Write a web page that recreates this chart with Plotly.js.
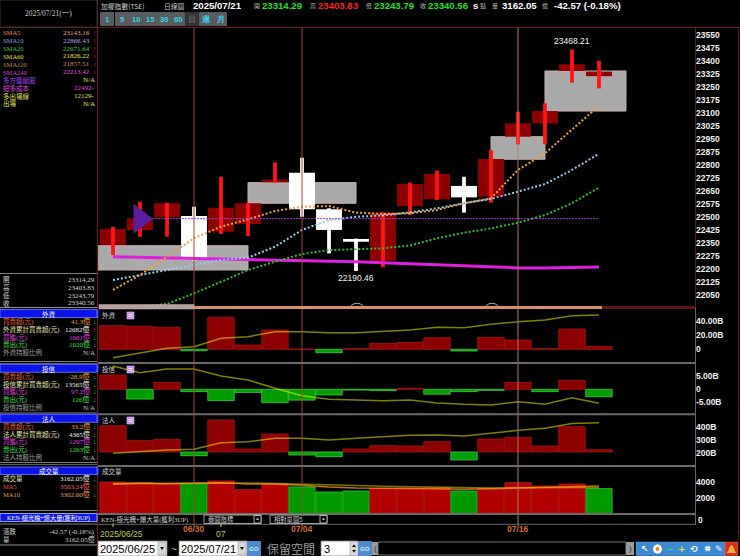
<!DOCTYPE html>
<html><head><meta charset="utf-8">
<script src="https://cdn.plot.ly/plotly-3.0.1.min.js"></script>
<style>html,body{margin:0;padding:0;background:#000;overflow:hidden}#chart{width:740px;height:556px}</style>
</head><body><div id="chart"></div>
<script>
// ---- TAIEX daily data, 2025/06/25 - 2025/07/21 ----
const dates = ['2025/06/25','2025/06/26','2025/06/27','2025/06/30','2025/07/01','2025/07/02','2025/07/03','2025/07/04','2025/07/07','2025/07/08','2025/07/09','2025/07/10','2025/07/11','2025/07/14','2025/07/15','2025/07/16','2025/07/17','2025/07/18','2025/07/21'];
const open  = [22340,22427,22500,22507,22417,22461,22702,22757,22546,22375,22250,22565,22604,22681,22619,22965,23042,23344,23314.29];
const high  = [22446,22590,22584,22561,22734,22583,22817,22844,22552,22377,22530,22700,22769,22734,22888,23109,23158,23468.21,23403.83];
const low   = [22282,22388,22388,22250,22404,22392,22700,22503,22292,22190.46,22212,22513,22600,22527,22584,22921,22921,23277,23243.79];
const close = [22432,22494,22581,22254,22555,22581,22718,22546,22427,22359,22527,22692,22750,22615,22836,23042,23113,23383.13,23340.56];

// moving averages of the index
const sma5   = [22081,22167,22273,22379,22446,22488,22536,22561,22565,22527,22519,22523,22542,22581,22610,22773,22869,23004,23143.16];
const sma10  = [22138,22167,22196,22225,22254,22267,22330,22427,22484,22503,22511,22528,22552,22581,22606,22648,22692,22773,22866.43];
const sma20  = [21940,21984,22000,22061,22128,22196,22244,22288,22311,22317,22321,22337,22379,22411,22436,22469,22513,22581,22671.64];
const sma60Last = 21826.22, sma120Last = 21857.51;
const sma240 = [22273,22270,22268,22265,22262,22259,22256,22252,22248,22243,22238,22232,22225,22216,22211,22208,22208,22210,22213.42];

// cost level marker
const costLevel = 22492, costFrom = '2025/06/26', exitLine = 12129;

// price gaps (from index, to index, low, high)
const gapFrom = [-1, 5, 14, 16];
const gapTo   = [5, 9, 16, 19];
const gapLow  = [22196, 22581, 22835, 23113];
const gapHigh = [22336, 22700, 22965, 23344];

// institutional flows: daily net (B) and running totals
const foreignNet = [33.7,33.0,31.4,-2.0,45.7,6.1,27.6,0.5,-4.8,1.0,8.6,10.0,16.6,-2.4,17.1,13.3,1.0,29.0,4.13];
const foreignCum = [10120,10384,10684,10780,11284,11380,11680,11680,11620,11620,11722,11782,11944,11920,12124,12280,12382,12640,12682];
const trustNet   = [5.6,-3.8,2.7,-0.9,-4.4,-1.2,-5.2,-4.2,-2.2,-0.3,-0.5,0.4,-1.9,-0.9,-0.4,2.7,-0.9,3.5,-2.89];
const trustCum   = [14311,14177,14251,14251,14111,14031,13865,13717,13645,13631,13617,13631,13571,13545,13531,13597,13545,13677,13565];
const instNet    = [37.6,16.2,18.2,-5.3,45.8,4.3,25.7,-4.3,-6.7,4.3,9.0,8.6,14.7,-11.4,18.6,21.0,8.6,36.2,3.32];
const instCum    = [195,208,221,227,279,287,313,313,300,313,326,337,339,331,353,376,392,430,436.5];

// turnover (億) and its averages
const volume = [3990,3900,3740,3780,4120,3020,3740,3360,2730,2850,3150,3240,3270,2850,3150,3910,3490,3740,3162.05];
const volMA5  = [3700,3830,3780,3830,3900,3740,3740,3580,3360,3240,3240,3150,3150,3070,3150,3270,3360,3400,3503.24];
const volMA10 = [3800,3820,3800,3810,3850,3870,3820,3700,3620,3540,3470,3400,3360,3270,3250,3280,3300,3330,3302.60];

// axis ticks and labels
const priceTicks = [22050,22125,22200,22275,22350,22425,22500,22575,22650,22725,22800,22875,22950,23025,23100,23175,23250,23325,23400,23475,23550];
const markDates  = ['2025/06/30','2025/07/04','2025/07/16'];
const dateLabelAt   = ['2025/06/25','2025/06/30','2025/07/01','2025/07/04','2025/07/16'];
const dateLabelText = ['2025/06/25','06/30','07','07/04','07/16'];

// side-panel figures
const foreignRows = ['41.3億','12682億','1061億','1020億'];
const trustRows   = ['-28.9億','13565億','97.2億','126億'];
const instRows    = ['33.2億','4365億','1297億','1263億'];
const periodBtns  = ['1','5','10','15','30','60','日','週','月'];

// ---------------------------------------------------------------
const W = 740, H = 556;
const fx = x => x / W;
const fy = y => 1 - y / H;
const idx = dates.map((d, i) => i);
const last = dates.length - 1;
const isUp = close.map((c, i) => c >= open[i]);
const volUp = close.map((c, i) => i === 0 ? true : c >= close[i - 1]);

const SERIF = "Liberation Serif, 'Noto Sans CJK TC', serif";
const SANS = "Liberation Sans, Arial, sans-serif";
const CJK = "'Noto Sans CJK TC', sans-serif";

const traces = [];
// candle bodies
traces.push({type:'bar', x:idx, base:open.map((o,i)=>Math.min(o,close[i])),
  y:open.map((o,i)=>Math.max(Math.abs(close[i]-o),2)), width:0.96,
  marker:{color:isUp.map(u=>u?'#8e0000':'#ffffff'), line:{width:0}}, yaxis:'y', hoverinfo:'skip'});
// candle wicks
traces.push({type:'bar', x:idx, base:low, y:high.map((h,i)=>h-low[i]), width:0.14,
  marker:{color:isUp.map(u=>u?'#ff1414':'#ffffff'), line:{width:0}}, yaxis:'y', hoverinfo:'skip'});
// moving averages
traces.push({type:'scatter', mode:'lines', x:idx, y:sma240, line:{color:'#e01ee0', width:3}, yaxis:'y'});
traces.push({type:'scatter', mode:'lines', x:idx, y:sma20, line:{color:'#2fc02f', width:2, dash:'2px,2px'}, yaxis:'y'});
traces.push({type:'scatter', mode:'lines', x:idx, y:sma10, line:{color:'#8ccff2', width:2, dash:'2px,2px'}, yaxis:'y'});
traces.push({type:'scatter', mode:'lines', x:idx, y:sma5, line:{color:'#f0a040', width:2, dash:'2px,2px'}, yaxis:'y'});
// cost level line and marker
const ci = dates.indexOf(costFrom);
traces.push({type:'scatter', mode:'lines', x:[ci, last], y:[costLevel, costLevel], line:{color:'#a43ad8', width:1, dash:'2px,1px'}, yaxis:'y'});
traces.push({type:'scatter', mode:'markers', x:[ci], y:[costLevel], marker:{symbol:'triangle-right', size:26, color:'#5a1e9c', line:{width:0}}, yaxis:'y'});

// sub-panel bars
const redGreen = (arr, r, g) => arr.map(v => v >= 0 ? r : g);
traces.push({type:'bar', x:idx, y:foreignNet, width:0.98, yaxis:'y2',
  marker:{color:redGreen(foreignNet,'#8c0000','#009c00'), line:{width:0.8, color:redGreen(foreignNet,'#a81414','#40d040')}}});
traces.push({type:'scatter', mode:'lines', x:idx, y:foreignCum, yaxis:'y3', line:{color:'rgba(255,255,0,0.5)', width:1.5}});
traces.push({type:'bar', x:idx, y:trustNet, width:0.98, yaxis:'y4',
  marker:{color:redGreen(trustNet,'#8c0000','#009c00'), line:{width:0.8, color:redGreen(trustNet,'#a81414','#40d040')}}});
traces.push({type:'scatter', mode:'lines', x:idx, y:trustCum, yaxis:'y5', line:{color:'rgba(255,255,0,0.5)', width:1.5}});
traces.push({type:'bar', x:idx, y:instNet, width:0.98, yaxis:'y6',
  marker:{color:redGreen(instNet,'#8c0000','#009c00'), line:{width:0.8, color:redGreen(instNet,'#a81414','#40d040')}}});
traces.push({type:'scatter', mode:'lines', x:idx, y:instCum, yaxis:'y7', line:{color:'rgba(255,255,0,0.5)', width:1.5}});
// volume
traces.push({type:'bar', x:idx, y:volume, width:0.97, yaxis:'y8',
  marker:{color:volUp.map(u=>u?'#b00000':'#009a00'), line:{width:0.8, color:volUp.map(u=>u?'#c82020':'#30c830')}}});
traces.push({type:'scatter', mode:'lines', x:idx, y:volMA10, yaxis:'y8', line:{color:'rgba(200,190,0,0.6)', width:1.5}});
traces.push({type:'scatter', mode:'lines', x:idx, y:volMA5, yaxis:'y8', line:{color:'rgba(255,150,20,0.75)', width:1.5}});

// ---- axes ----
const tickFont = {family:SANS, size:8.5, color:'#f2f2f2', weight:'bold'};
const yBase = {side:'right', anchor:'x', showgrid:false, zeroline:false, showline:false, ticks:'', tickfont:tickFont, fixedrange:true};
const layout = {
  width:W, height:H, margin:{l:0,r:0,t:0,b:0}, paper_bgcolor:'#000', plot_bgcolor:'#000',
  showlegend:false, barmode:'overlay', hovermode:false,
  xaxis:{domain:[fx(98), fx(695)], range:[-0.556, 21.556], visible:false, fixedrange:true, anchor:'y'},
  yaxis: Object.assign({}, yBase, {domain:[fy(307), fy(29)], range:[21982.5, 23586.3], tickvals:priceTicks, ticktext:priceTicks.map(String)}),
  yaxis2: Object.assign({}, yBase, {domain:[fy(362), fy(310)], range:[-18.1, 56.1], tickvals:[0,20,40], ticktext:['0','20.00B','40.00B']}),
  yaxis3: Object.assign({}, yBase, {overlaying:'y2', range:[9862, 12982], visible:false}),
  yaxis4: Object.assign({}, yBase, {domain:[fy(413), fy(363)], range:[-9.22, 10.23], tickvals:[-5,0,5], ticktext:['-5.00B','0','5.00B']}),
  yaxis5: Object.assign({}, yBase, {overlaying:'y4', range:[13371, 14371], visible:false}),
  yaxis6: Object.assign({}, yBase, {domain:[fy(465), fy(414)], range:[-18.6, 54.3], showticklabels:false}),
  yaxis7: Object.assign({}, yBase, {overlaying:'y6', range:[103.1, 504.7], tickvals:[200,300,400], ticktext:['200B','300B','400B']}),
  yaxis8: Object.assign({}, yBase, {domain:[fy(513.4), fy(467)], range:[0, 5911], tickvals:[2000,4000], ticktext:['2000','4000']}),
  shapes:[], annotations:[]
};
const S = layout.shapes, A = layout.annotations;

function rectP(x0,y0,x1,y1,fill,line,lw){ S.push({type:'rect', xref:'paper', yref:'paper', x0:fx(x0), x1:fx(x1), y0:fy(y1), y1:fy(y0), fillcolor:fill, line:{color:line||'rgba(0,0,0,0)', width:lw===undefined?1:lw}, layer:'above'}); }
function circP(x0,y0,x1,y1,fill){ S.push({type:'circle', xref:'paper', yref:'paper', x0:fx(x0), x1:fx(x1), y0:fy(y1), y1:fy(y0), fillcolor:fill, line:{width:0}, layer:'above'}); }
function lineP(x0,y0,x1,y1,color,w){ S.push({type:'line', xref:'paper', yref:'paper', x0:fx(x0), x1:fx(x1), y0:fy(y0), y1:fy(y1), line:{color:color, width:w||1}, layer:'above'}); }
function T(x,y,text,color,size,o){ A.push(Object.assign({xref:'paper', yref:'paper', x:fx(x), y:fy(y), text:text, showarrow:false, xanchor:'left', yanchor:'middle', borderpad:0, font:{family:SERIF, size:size||7.5, color:color}}, o||{})); }

// gap boxes
gapFrom.forEach((g,i)=>{
  S.push({type:'rect', xref:'x', yref:'y', x0:g, x1:gapTo[i], y0:gapLow[i], y1:gapHigh[i], fillcolor:'#a9a9a9', line:{color:'#cdb0b0', width:1}, layer:'below'});
});
// marker lines
const markColors = ['#a2482a','#a2482a','#b57a66'];
markDates.forEach((d,i)=>{
  const k = dates.indexOf(d);
  S.push({type:'line', xref:'x', yref:'paper', x0:k, x1:k, y0:fy(525), y1:fy(28), line:{color:markColors[i], width:1}, layer:'above'});
});

// frame lines
lineP(0,27.5,740,27.5,'#6a1a1a',1);
lineP(97.5,0,97.5,556,'#6a1a1a',1.2);
lineP(695.5,28,695.5,308,'#5c1c1c',1);
lineP(695.5,308,695.5,525,'#666',1);
lineP(738.5,28,738.5,540,'#5a1010',1);
// bottom strip of price panel
rectP(99,304.5,194,309,'#b0a0a0','#d0a8a8',0.5);
lineP(194,307.5,602,307.5,'#d8906c',3);
lineP(602,307.5,695,307.5,'#5a1414',3);
[357,492].forEach(cx=>{
  S.push({type:'path', xref:'paper', yref:'paper', path:'M '+fx(cx-6)+','+fy(305.5)+' Q '+fx(cx)+','+fy(301)+' '+fx(cx+6)+','+fy(305.5), line:{color:'#a8a8a8', width:1}, layer:'above'});
});
// panel separators
[363,414.3,466,513.9].forEach(y=>lineP(98,y,695,y,'#6a6a6a',2));
lineP(98,524.3,695,524.3,'#6a6a6a',1);
// little blue markers at panel edges
[310,364,415,467].forEach(y=>rectP(96.5,y,98.5,y+8,'#2040ff','#2040ff',0));
// panel titles and icons
const panelTitle = (y,t)=>T(101,y,t,'#d8d8d8',6.5,{font:{family:CJK,size:6.5,color:'#d8d8d8'}});
panelTitle(314.5,'外資'); panelTitle(368.5,'投信'); panelTitle(420,'法人'); panelTitle(471.5,'成交量');
[312,366,417].forEach(y=>{
  rectP(127,y,134,y+7,'#c690f2','#e4c8ff',0.6);
  lineP(128.5,y+2.5,132.5,y+2.5,'#ffffff',0.8);
  lineP(128.5,y+4.5,132.5,y+4.5,'#ffffff',0.8);
});

// extreme labels
const hiIdx = high.indexOf(Math.max(...high));
const loIdx = low.indexOf(Math.min(...low));
A.push({xref:'x', yref:'y', x:hiIdx, y:high[hiIdx], text:high[hiIdx].toFixed(2), showarrow:false, yanchor:'bottom', xanchor:'center', yshift:1, font:{family:SANS, size:8.5, color:'#f0f0f0'}});
A.push({xref:'x', yref:'y', x:loIdx, y:low[loIdx], text:low[loIdx].toFixed(2), showarrow:false, yanchor:'top', xanchor:'center', yshift:0, font:{family:SANS, size:8.5, color:'#f0f0f0'}});

// volume zero label
T(697,519.7,'0','#f2f2f2',8.5,{font:tickFont});

// date labels under the panels
const dateColors = {'2025/06/25':'#c8c840','2025/07/01':'#c8c840'};
dateLabelAt.forEach((d,i)=>{
  const k = dates.indexOf(d);
  const col = dateColors[d] || '#d06a30';
  const yy = dateColors[d] ? 534 : 529;
  A.push({xref:'x', yref:'paper', x:k, y:fy(yy), text:dateLabelText[i], showarrow:false, xanchor:'center', yanchor:'middle', xshift: d==='2025/06/25'?8:0,
    font:{family:SANS, size:8.5, color:col, weight: dateColors[d]?'normal':'bold'}});
  if (dateColors[d]) S.push({type:'line', xref:'x', yref:'paper', x0:k, x1:k, y0:fy(527), y1:fy(523.5), line:{color:col, width:1}, layer:'above'});
});

// indicator selector row
T(100,519,'KEN-極光魄+爆大量(獲利3UP)','#d0d0d0',6.5,{font:{family:SERIF,size:6.5,color:'#d0d0d0'}});
rectP(204,515,261,523.5,'#000','#c8c8c8',0.8);
T(207,519.2,'疊圖指標','#d0d0d0',6.3,{font:{family:CJK,size:6.3,color:'#d0d0d0'}});
rectP(254,515.5,261,523,'#000','#d0d0d0',0.8);
lineP(256.5,519.2,258.5,519.2,'#e0e0e0',1.5);
rectP(270,515,327,523.5,'#000','#c8c8c8',0.8);
T(273,519.2,'相對量圖5','#d0d0d0',6.3,{font:{family:CJK,size:6.3,color:'#d0d0d0'}});
rectP(320,515.5,327,523,'#000','#d0d0d0',0.8);
lineP(322.5,519.2,324.5,519.2,'#e0e0e0',1.5);

// ---- top bar ----
rectP(0,0,97,27,'#000','#3a3a3a',0.8);
T(48.5,14,'2025/07/21(一)','#c8c8c8',7.5,{xanchor:'center'});
T(100,5.5,'加權指數(TSE)','#d0d0d0',6.8,{font:{family:CJK,size:6.8,color:'#d0d0d0'}});
T(163,5.5,'日線圖','#c0c0c0',6.8,{font:{family:CJK,size:6.8,color:'#c0c0c0'}});
const boldTop = (x,t,c)=>T(x,5.5,t,c,9.6,{font:{family:SANS,size:9.6,color:c,weight:'bold'}});
const smallTop = (x,t)=>T(x,5.5,t,'#b8b8b8',6,{font:{family:CJK,size:6,color:'#b8b8b8'}});
boldTop(192, dates[last], '#ffffff');
smallTop(253,'開'); boldTop(261, open[last].toFixed(2), '#22e022');
smallTop(309,'高'); boldTop(317, high[last].toFixed(2), '#ff2020');
smallTop(365,'低'); boldTop(373, low[last].toFixed(2), '#22e022');
smallTop(419,'收'); boldTop(426.5, close[last].toFixed(2), '#22e022');
boldTop(472,'s','#ffffff'); smallTop(479,'點');
smallTop(491,'量'); boldTop(501, volume[last].toFixed(2), '#ffffff'); smallTop(541,'億');
const chg = close[last]-close[last-1];
boldTop(553, chg.toFixed(2)+' ('+(chg/close[last-1]*100).toFixed(2)+'%)', '#ffffff');
// period buttons
const btnX = [100,115,129,143,157,171,185,199,213];
periodBtns.forEach((b,i)=>{
  const sel = b==='日';
  rectP(btnX[i]+0.5,12.5,btnX[i]+13.5,25.5, sel?'#353535':'#585c60', sel?'#454545':'#7a7e82',0.6);
  T(btnX[i]+7,19.2,b, sel?'#6a6a6a':'#3ad6e6',7.5,{xanchor:'center', font:{family:SANS, size:7.5, color: sel?'#6a6a6a':'#3ad6e6', weight:'bold'}});
});

// ---- left information panel ----
const valX = 91, arrX = 92;
function row(y,label,lc,val,vc,arr,ac){
  T(2,y,label,lc,6.5);
  T(arr?valX:96,y,val,vc,7,{xanchor:'right', font:{family:SERIF,size:7,color:vc}});
  if (arr) T(arrX,y,arr,ac,6.5,{font:{family:SERIF,size:6.5,color:ac,weight:'bold'}});
}
const RED='#ff2020', GRN='#20d020';
row(32.7,'SMA5','#e08a4a',sma5[last].toFixed(2),'#f0a080','↑',RED);
row(40.7,'SMA10','#70a8e8',sma10[last].toFixed(2),'#b0a8ff','↑',RED);
row(48.5,'SMA20','#40c040',sma20[last].toFixed(2),'#40d040','↑',RED);
row(56.3,'SMA60','#e0e040',sma60Last.toFixed(2),'#e8e840','↑',RED);
row(64.2,'SMA120','#c88848',sma120Last.toFixed(2),'#d09060','↑',RED);
row(72.2,'SMA240','#d040d0',sma240[last].toFixed(2),'#e050e0','↑',RED);
row(80,'多方連續圈','#a040f0','N/A','#e0e040');
row(88,'短多成本','#e040e0',costLevel+'-','#e040e0');
row(96,'多出場線','#e0e060',exitLine+'-','#e0e060');
row(104,'出場','#e0e060','N/A','#e0e060');

lineP(0,273.5,97,273.5,'#808080',1);
row(280,'開','#d8d8d8',open[last].toFixed(2),'#d8d8d8');
row(287.7,'高','#d8d8d8',high[last].toFixed(2),'#d8d8d8');
row(295.5,'低','#d8d8d8',low[last].toFixed(2),'#d8d8d8');
row(303.2,'收','#d8d8d8',close[last].toFixed(2),'#d8d8d8');

function header(y0,y1,text){
  rectP(0,y0,97,y1,'#0a16e8','#7080ff',0.8);
  T(48.5,(y0+y1)/2+0.3,text,'#ffffff',6.5,{xanchor:'center', font:{family:CJK,size:6.5,color:'#ffffff'}});
}
function flowBlock(y0, name, vals, arrows){
  header(y0, y0+8, name);
  const ys = [y0+12.2, y0+19.8, y0+27.6, y0+35.4, y0+43.2];
  row(ys[0],'買賣超(元)','#e86030',vals[0],'#f0a030','↓',GRN);
  row(ys[1],name+'累計買賣超(元)','#e8e8b0',vals[1],'#f0f0f0',arrows,arrows==='↑'?RED:GRN);
  row(ys[2],'買進(元)','#e040e0',vals[2],'#e040e0','↓',GRN);
  row(ys[3],'賣出(元)','#40e040',vals[3],'#40e040','↓',GRN);
  row(ys[4],name+'持股比例','#a0a0a0','N/A','#c0c0c0');
}
lineP(0,307.5,97,307.5,'#909090',1);
flowBlock(309.5,'外資',foreignRows,'↑');
lineP(0,361.5,97,361.5,'#808080',1); lineP(0,363.5,97,363.5,'#606060',1);
flowBlock(364.3,'投信',trustRows,'↓');
lineP(0,413,97,413,'#808080',1);
flowBlock(414.3,'法人',instRows,'↓');
lineP(0,462.5,97,462.5,'#808080',1); lineP(0,464.5,97,464.5,'#606060',1);
header(467,474.5,'成交量');
row(478.3,'成交量','#e8e8b0',volume[last].toFixed(2)+'億','#f0f0f0','↓',GRN);
row(486.2,'MA5','#ff5050',volMA5[last].toFixed(2)+'億','#ff6060','↑',RED);
row(494.2,'MA10','#e0a040',volMA10[last].toFixed(2)+'億','#e0a040','↓',GRN);
lineP(0,510.5,97,510.5,'#808080',1);
rectP(0,513.5,97,521.5,'#0a16e8','#c0c8ff',0.8);
T(48.5,517.8,'KEN-極光魄+爆大量(獲利3UP)','#ffffff',6.2,{xanchor:'center', font:{family:SERIF,size:6.2,color:'#ffffff'}});
lineP(0,524,97,524,'#808080',1);
row(531.5,'漲跌','#d0d0d0',chg.toFixed(2)+' ('+(chg/close[last-1]*100).toFixed(2)+'%)','#d0d0d0');
row(539,'量','#d0d0d0',volume[last].toFixed(2)+'億','#d0d0d0');
lineP(0,545,97,545,'#909090',1);

// ---- bottom controls ----
function dateBox(x0,x1,text){
  rectP(x0,541,x1,556,'#ffffff','#808080',0.8);
  T(x0+1,549,text,'#000000',11,{font:{family:SANS,size:11,color:'#000000'}});
  rectP(x1-9,542,x1-1,555,'#d8d8d8','#a0a0a0',0.6);
  S.push({type:'path', xref:'paper', yref:'paper', path:'M '+fx(x1-7)+','+fy(547)+' L '+fx(x1-3)+','+fy(547)+' L '+fx(x1-5)+','+fy(550)+' Z', fillcolor:'#000', line:{width:0}, layer:'above'});
}
dateBox(98,167,dates[0]);
T(170,549,'~','#b0b0b0',10,{font:{family:SANS,size:10,color:'#b0b0b0'}});
dateBox(179,247,dates[last]);
function goBtn(x0){ rectP(x0,541.5,x0+13,555.5,'#4a8ed6','#7ab0e8',0.6); T(x0+6.5,548.5,'GO','#d8ecff',6,{xanchor:'center', font:{family:SANS,size:6,color:'#d8ecff',weight:'bold'}}); }
goBtn(247.5);
T(266,548,'保留空間','#9a9a9a',12,{font:{family:CJK,size:12,color:'#9a9a9a'}});
rectP(321,541,358,556,'#ffffff','#808080',0.8);
T(323,549,'3','#000',11,{font:{family:SANS,size:11,color:'#000'}});
rectP(350,541.5,358,555.5,'#d8d8d8','#a0a0a0',0.6);
S.push({type:'path', xref:'paper', yref:'paper', path:'M '+fx(352)+','+fy(547)+' L '+fx(356)+','+fy(547)+' L '+fx(354)+','+fy(544.5)+' Z', fillcolor:'#000', line:{width:0}, layer:'above'});
S.push({type:'path', xref:'paper', yref:'paper', path:'M '+fx(352)+','+fy(550)+' L '+fx(356)+','+fy(550)+' L '+fx(354)+','+fy(552.5)+' Z', fillcolor:'#000', line:{width:0}, layer:'above'});
goBtn(358.5);
rectP(372,542,378,555,'#9a9a9a','#9a9a9a',0);
T(375,548.5,'(','#303030',8,{xanchor:'center', font:{family:SANS,size:8,color:'#303030'}});
rectP(378,542,626,555,'#000000','#8a8a8a',0.8);
rectP(626,542,634,555,'#9a9a9a','#9a9a9a',0);
T(630,548.5,')','#303030',8,{xanchor:'center', font:{family:SANS,size:8,color:'#303030'}});
rectP(636,542,725,555.5,'#3c8ad6','#5aa0e0',0.5);
const icons = [['↖','#ffffff',645],['−','#40e040',670],['+','#f0e020',682],['⟲','#ffffff',694],['⌗','#ffffff',707],['✎','#ffffff',719]];
icons.forEach(ic=>T(ic[2],548.7,ic[0],ic[1],9,{xanchor:'center', font:{family:'DejaVu Sans',size:9,color:ic[1],weight:'bold'}}));
circP(653,544.5,662,553.5,'#ffffff');
circP(655.5,547,659.5,551,'#f08020');
rectP(725,542,738,555.5,'#d8301c','#e06040',0.5);
S.push({type:'path', xref:'paper', yref:'paper', path:'M '+fx(727)+','+fy(553)+' L '+fx(736)+','+fy(553)+' L '+fx(734)+','+fy(549)+' Q '+fx(731.5)+','+fy(541)+' '+fx(729)+','+fy(549)+' Z', fillcolor:'#ffb030', line:{width:0}, layer:'above'});

Plotly.newPlot('chart', traces, layout, {staticPlot:true, displayModeBar:false});
</script></body></html>
